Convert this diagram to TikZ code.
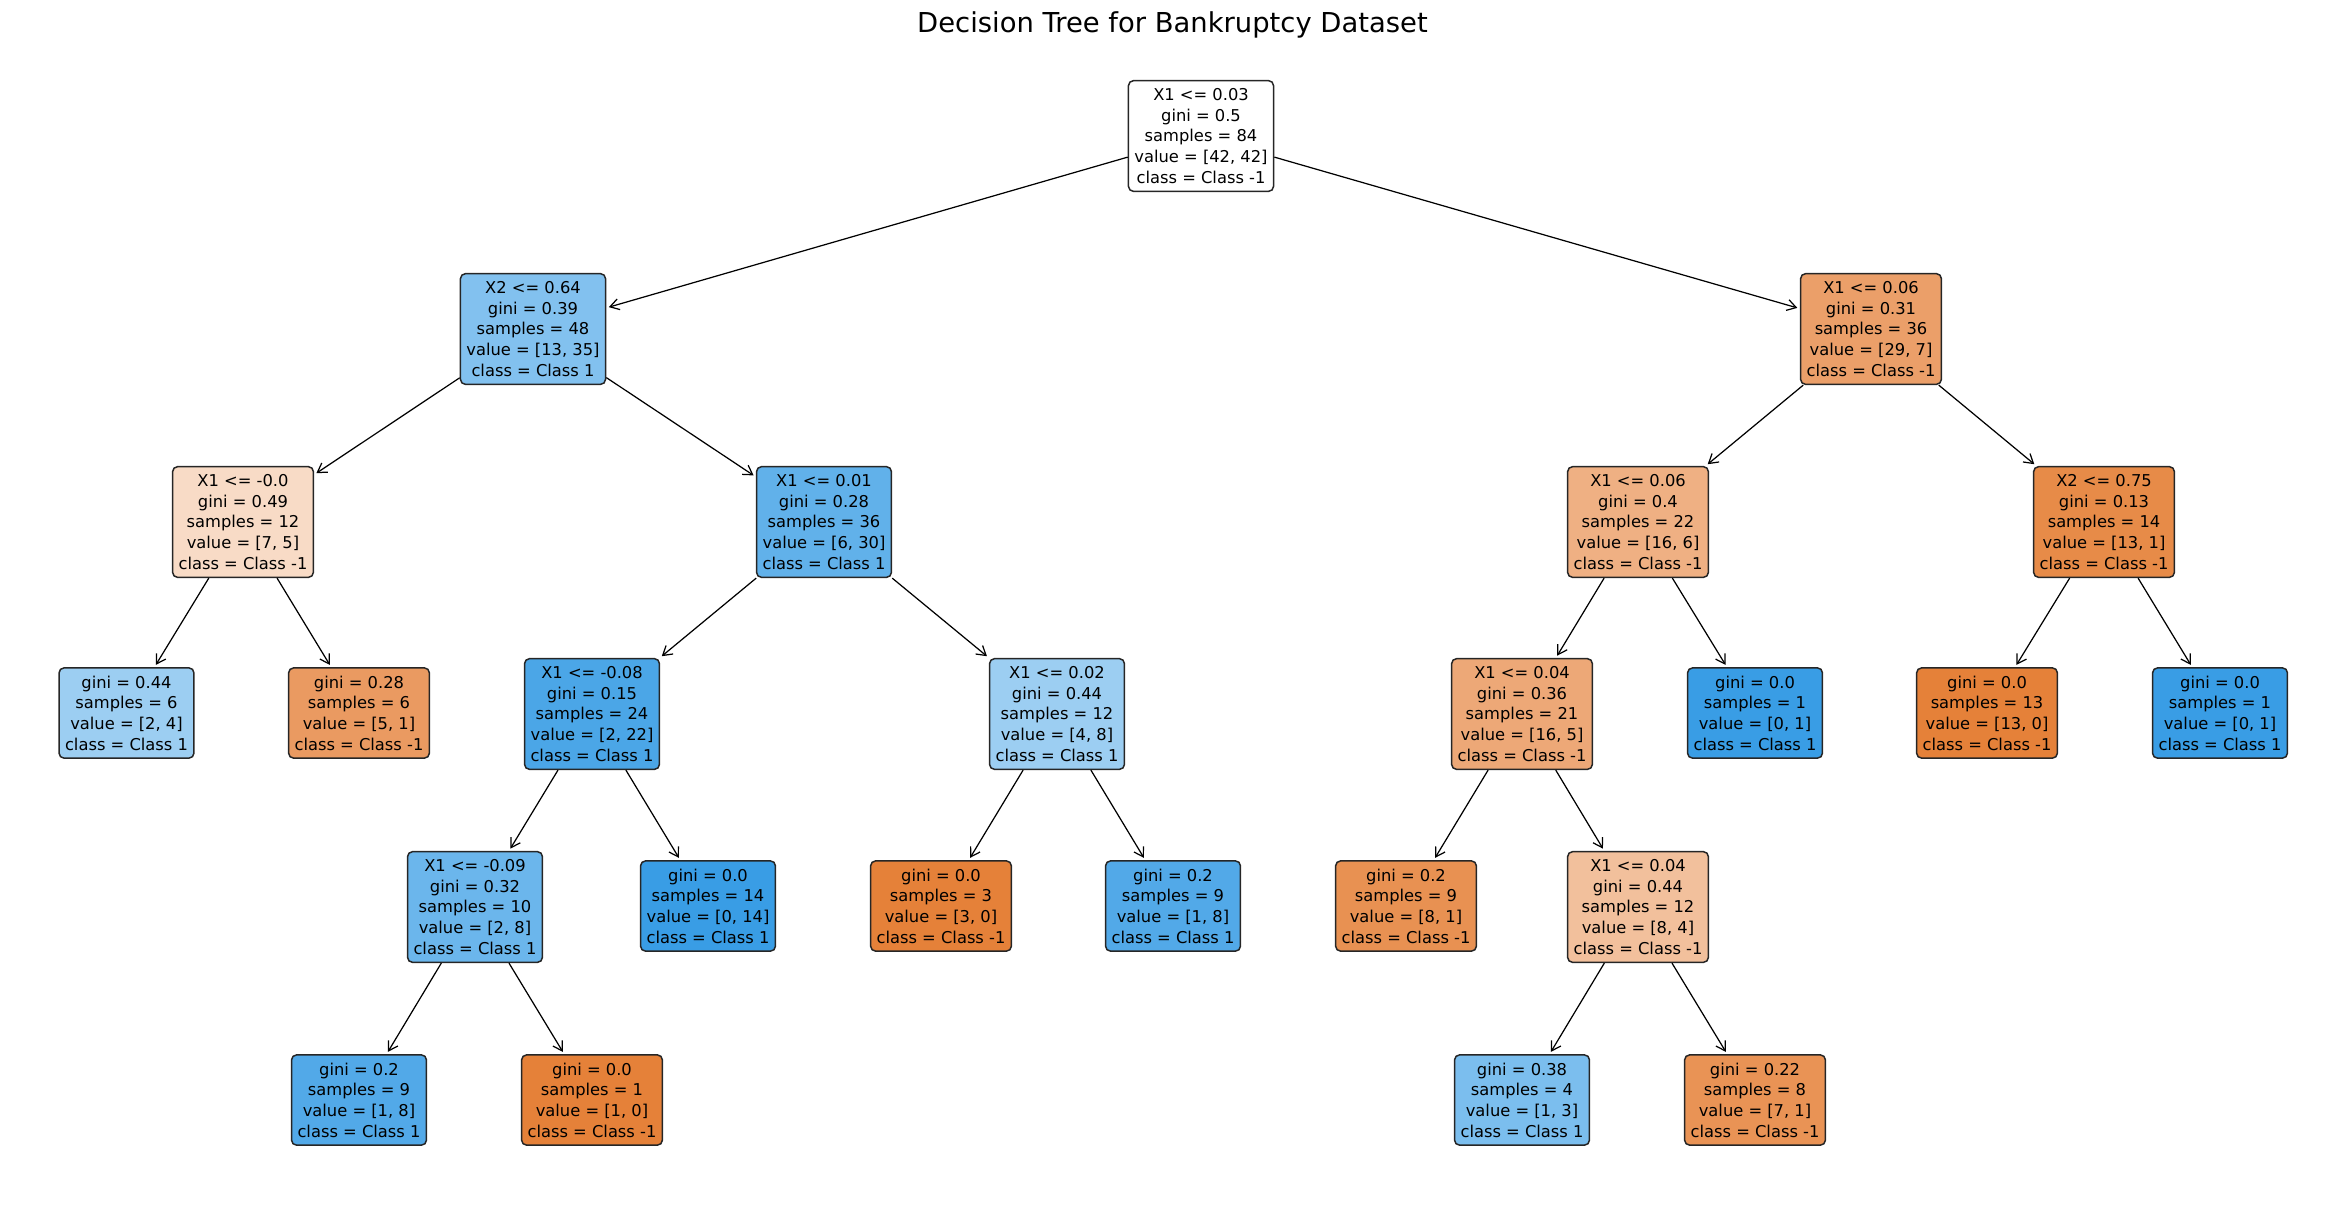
\documentclass[tikz,border=0pt]{standalone}
\usepackage{fontspec}
\setmainfont{DejaVu Sans}
\usepackage{tikz}
\usetikzlibrary{arrows.meta}
\newcommand{\treefont}{\fontsize{9.28pt}{11.8pt}\selectfont}
\newcommand{\headfont}{\fontsize{15.6pt}{18pt}\selectfont}

\definecolor{c0}{RGB}{255,255,255}
\definecolor{c1}{RGB}{130,193,239}
\definecolor{c2}{RGB}{248,219,198}
\definecolor{c3}{RGB}{156,206,242}
\definecolor{c4}{RGB}{234,154,97}
\definecolor{c5}{RGB}{97,177,234}
\definecolor{c6}{RGB}{75,166,231}
\definecolor{c7}{RGB}{107,182,236}
\definecolor{c8}{RGB}{82,169,232}
\definecolor{c14}{RGB}{235,159,105}
\definecolor{c15}{RGB}{239,176,131}
\definecolor{c16}{RGB}{237,168,119}
\definecolor{c17}{RGB}{232,145,82}
\definecolor{c18}{RGB}{242,192,156}
\definecolor{c19}{RGB}{123,190,238}
\definecolor{c20}{RGB}{233,147,85}
\definecolor{c22}{RGB}{231,139,72}
\definecolor{pureneg}{RGB}{229,129,57}
\definecolor{purepos}{RGB}{57,157,229}

\begin{document}
\begin{tikzpicture}[x=0.02cm,y=-0.02cm,
  box/.style={draw=black!85,line width=0.85pt,rounded corners=0.1cm,align=center,inner xsep=3.4pt,inner ysep=4.4pt,font=\treefont},
  arr/.style={line width=0.7pt,-{Straight Barb[length=1.8mm,width=2.2mm]},shorten >=1.5pt}]
\useasboundingbox (0,0) rectangle (2345,1205);

\node[font=\headfont,anchor=base](title) at (1172.5,32){Decision Tree for Bankruptcy Dataset};

% level 0 and 1
\node[box,fill=c0](0) at (1201,136){X1 <= 0.03\\gini = 0.5\\samples = 84\\value = [42, 42]\\class = Class -1};
\node[box,fill=c1](1) at (533,329){X2 <= 0.64\\gini = 0.39\\samples = 48\\value = [13, 35]\\class = Class 1};
\node[box,fill=c14](14) at (1871,329){X1 <= 0.06\\gini = 0.31\\samples = 36\\value = [29, 7]\\class = Class -1};

% level 2
\node[box,fill=c2](2) at (243,522){X1 <= -0.0\\gini = 0.49\\samples = 12\\value = [7, 5]\\class = Class -1};
\node[box,fill=c5](5) at (824,522){X1 <= 0.01\\gini = 0.28\\samples = 36\\value = [6, 30]\\class = Class 1};
\node[box,fill=c15](15) at (1638,522){X1 <= 0.06\\gini = 0.4\\samples = 22\\value = [16, 6]\\class = Class -1};
\node[box,fill=c22](22) at (2104,522){X2 <= 0.75\\gini = 0.13\\samples = 14\\value = [13, 1]\\class = Class -1};

% level 3
\node[box,fill=c3](3) at (126.5,713){gini = 0.44\\samples = 6\\value = [2, 4]\\class = Class 1};
\node[box,fill=c4](4) at (359,713){gini = 0.28\\samples = 6\\value = [5, 1]\\class = Class -1};
\node[box,fill=c6](6) at (592,714){X1 <= -0.08\\gini = 0.15\\samples = 24\\value = [2, 22]\\class = Class 1};
\node[box,fill=c3](11) at (1057,714){X1 <= 0.02\\gini = 0.44\\samples = 12\\value = [4, 8]\\class = Class 1};
\node[box,fill=c16](16) at (1522,714){X1 <= 0.04\\gini = 0.36\\samples = 21\\value = [16, 5]\\class = Class -1};
\node[box,fill=purepos](21) at (1755,713){gini = 0.0\\samples = 1\\value = [0, 1]\\class = Class 1};
\node[box,fill=pureneg](23) at (1987,713){gini = 0.0\\samples = 13\\value = [13, 0]\\class = Class -1};
\node[box,fill=purepos](24) at (2220,713){gini = 0.0\\samples = 1\\value = [0, 1]\\class = Class 1};

% level 4
\node[box,fill=c7](7) at (475,907){X1 <= -0.09\\gini = 0.32\\samples = 10\\value = [2, 8]\\class = Class 1};
\node[box,fill=purepos](10) at (708,906){gini = 0.0\\samples = 14\\value = [0, 14]\\class = Class 1};
\node[box,fill=pureneg](12) at (941,906){gini = 0.0\\samples = 3\\value = [3, 0]\\class = Class -1};
\node[box,fill=c8](13) at (1173,906){gini = 0.2\\samples = 9\\value = [1, 8]\\class = Class 1};
\node[box,fill=c17](17) at (1406,906){gini = 0.2\\samples = 9\\value = [8, 1]\\class = Class -1};
\node[box,fill=c18](18) at (1638,907){X1 <= 0.04\\gini = 0.44\\samples = 12\\value = [8, 4]\\class = Class -1};

% level 5
\node[box,fill=c8](8) at (359,1100){gini = 0.2\\samples = 9\\value = [1, 8]\\class = Class 1};
\node[box,fill=pureneg](9) at (592,1100){gini = 0.0\\samples = 1\\value = [1, 0]\\class = Class -1};
\node[box,fill=c19](19) at (1522,1100){gini = 0.38\\samples = 4\\value = [1, 3]\\class = Class 1};
\node[box,fill=c20](20) at (1755,1100){gini = 0.22\\samples = 8\\value = [7, 1]\\class = Class -1};

\draw[arr](0)--(1);
\draw[arr](0)--(14);
\draw[arr](1)--(2);
\draw[arr](1)--(5);
\draw[arr](2)--(3);
\draw[arr](2)--(4);
\draw[arr](5)--(6);
\draw[arr](5)--(11);
\draw[arr](6)--(7);
\draw[arr](6)--(10);
\draw[arr](7)--(8);
\draw[arr](7)--(9);
\draw[arr](11)--(12);
\draw[arr](11)--(13);
\draw[arr](14)--(15);
\draw[arr](14)--(22);
\draw[arr](15)--(16);
\draw[arr](15)--(21);
\draw[arr](16)--(17);
\draw[arr](16)--(18);
\draw[arr](18)--(19);
\draw[arr](18)--(20);
\draw[arr](22)--(23);
\draw[arr](22)--(24);

\end{tikzpicture}
\end{document}
